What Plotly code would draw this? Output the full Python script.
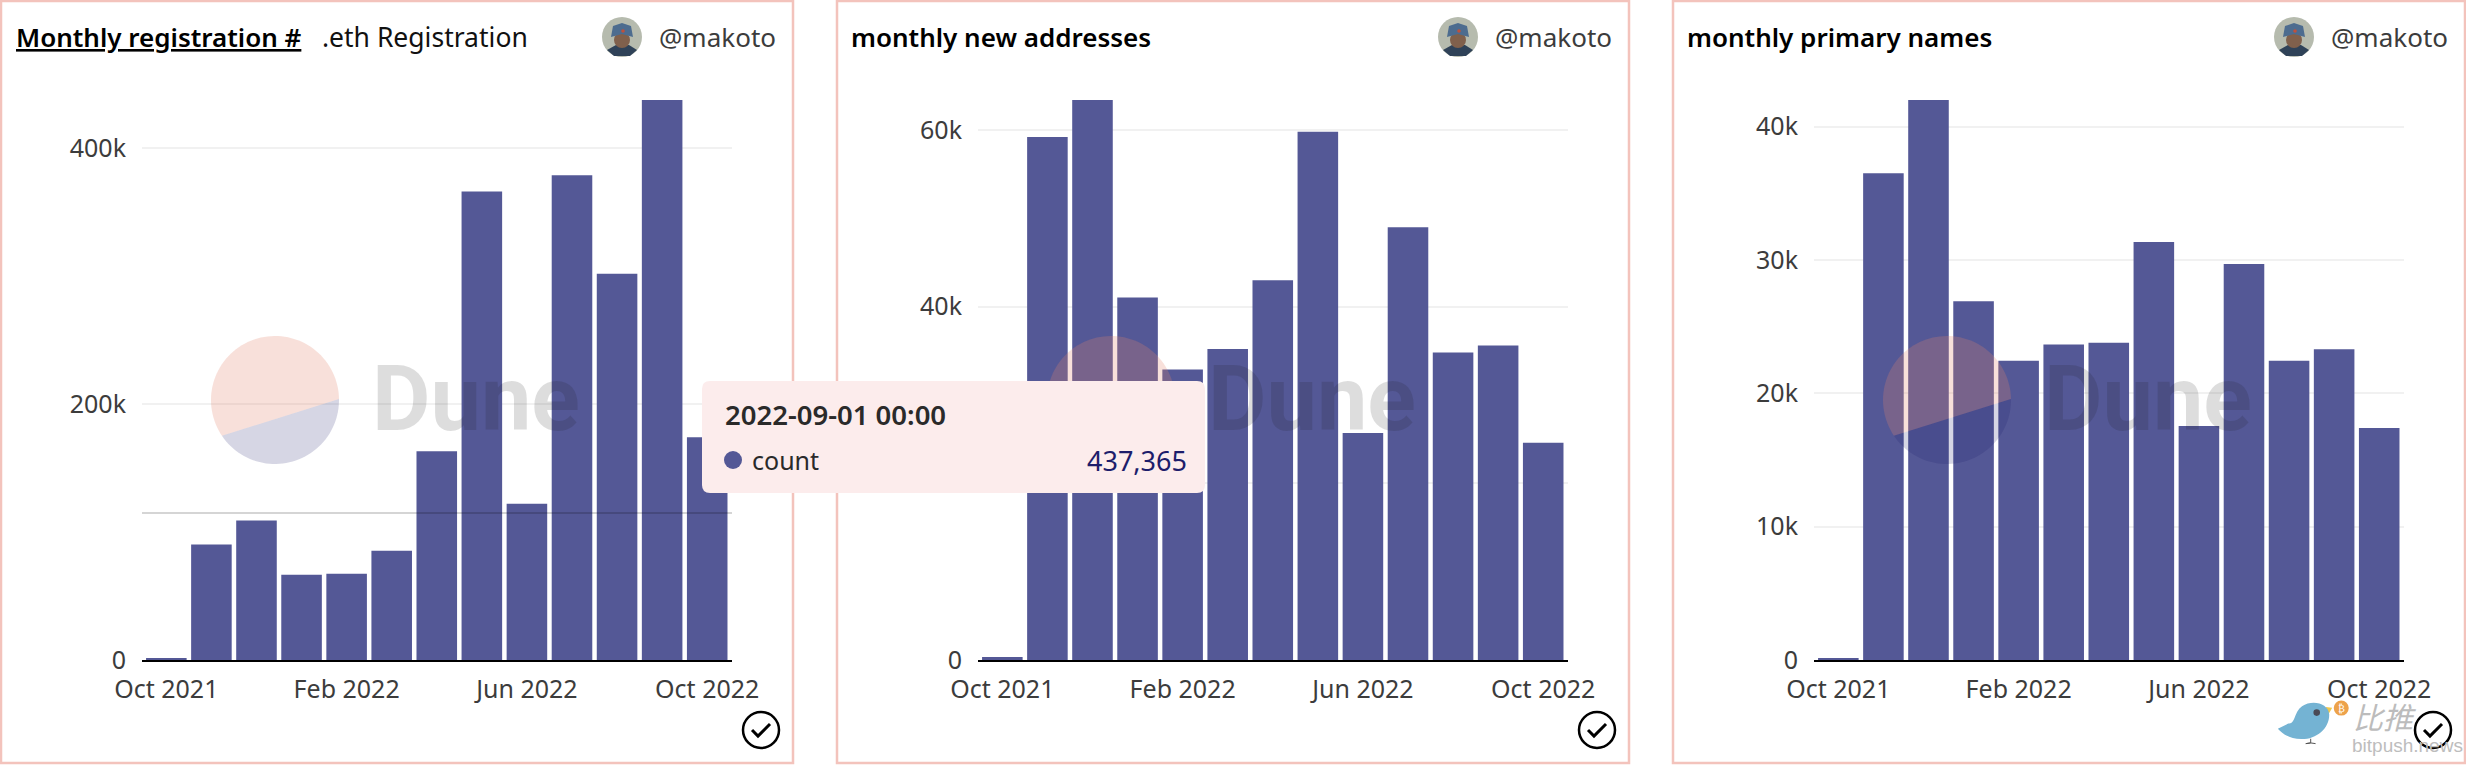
import numpy as np
import plotly.graph_objects as go

W, H = 2466, 766
months = ["2021-10","2021-11","2021-12","2022-01","2022-02","2022-03","2022-04",
          "2022-05","2022-06","2022-07","2022-08","2022-09","2022-10"]
tick_months = ["2021-10","2022-02","2022-06","2022-10"]
tick_labels = ["Oct 2021","Feb 2022","Jun 2022","Oct 2022"]

registrations = [800,90300,109000,66600,67400,85400,163000,366000,122000,378600,301600,437365,174000]
new_addresses = [330,59200,63400,41050,32900,35200,43000,59800,25700,49000,34800,35600,24600]
primary_names = [100,36500,42000,26900,22450,23660,23800,31350,17550,29700,22450,23300,17400]

reg_ticks = [0,200000,400000]; reg_labels = ["0","200k","400k"]
addr_ticks = [0,20000,40000,60000]; addr_labels = ["0","","40k","60k"]
prim_ticks = [0,10000,20000,30000,40000]; prim_labels = ["0","10k","20k","30k","40k"]

titles = ["Monthly registration #","monthly new addresses","monthly primary names"]
subtitle = ".eth Registration"
author = "@makoto"
tip_title = "2022-09-01 00:00"
tip_name = "count"
tip_value = "437,365"

BAR = "#545896"
FONT = "Noto Sans"
OFF = 836
PL, PR, PT, PB = 142, 732, 100, 660

def X(p): return p / W
def Y(p): return 1 - p / H
def path(pts, close=True):
    s = "M" + " L".join(f"{X(a):.5f},{Y(b):.5f}" for a, b in pts)
    return s + (" Z" if close else "")
def bez(cmds):
    out = []
    for c, pts in cmds:
        out.append(c + " ".join(f"{X(a):.5f},{Y(b):.5f}" for a, b in pts))
    return " ".join(out)

fig = go.Figure()
series = [(registrations, reg_ticks, reg_labels), (new_addresses, addr_ticks, addr_labels), (primary_names, prim_ticks, prim_labels)]
shapes, annos = [], []

def circ(cx, cy, r, **kw):
    return dict(type="circle", xref="paper", yref="paper", x0=X(cx-r), x1=X(cx+r), y0=Y(cy+r), y1=Y(cy-r), **kw)
def txt(x, y, t, size, color="#333", anchor="left", weight="normal", family=FONT, **f):
    return dict(xref="paper", yref="paper", x=X(x), y=Y(y), text=t, showarrow=False, xanchor=anchor, yanchor="middle",
                align=anchor, font=dict(family=family, size=size, color=color, weight=weight, **f),
                borderpad=0, borderwidth=0)

layout_axes = {}
for i, (vals, tv, tl) in enumerate(series):
    o = OFF * i
    s = "" if i == 0 else str(i + 1)
    fig.add_trace(go.Bar(x=months, y=vals, xaxis=f"x{s}", yaxis=f"y{s}", marker=dict(color=BAR, line_width=0),
                         width=0.9, showlegend=False))
    layout_axes[f"xaxis{s}"] = dict(domain=[X(PL+o), X(PR+o)], type="category", categoryorder="array", categoryarray=months,
        range=[-0.54, 12.55], tickmode="array", tickvals=tick_months, ticktext=tick_labels, showgrid=False, zeroline=False,
        showline=True, linecolor="#000", linewidth=2, ticks="outside", ticklen=6, tickcolor="rgba(0,0,0,0)", automargin=False,
        tickfont=dict(family=FONT, size=25, color="#3c3c3c"), anchor=f"y{s}", tickangle=0)
    layout_axes[f"yaxis{s}"] = dict(domain=[Y(PB), Y(PT)], range=[0, max(vals)], tickmode="array", tickvals=tv, ticktext=tl,
        showgrid=True, gridcolor="#f1f1f1", gridwidth=2, zeroline=False, showline=False, ticks="outside", ticklen=10, automargin=False,
        tickcolor="rgba(0,0,0,0)", tickfont=dict(family=FONT, size=25, color="#3c3c3c"), anchor=f"x{s}")

    # card border
    shapes.append(dict(type="rect", xref="paper", yref="paper", x0=X(o+1), x1=X(o+793), y0=Y(763), y1=Y(1),
                       line=dict(color="#f3c3bc", width=2.5), layer="above"))
    # Dune watermark
    cx, cy, r = 275 + o, 400, 64
    ang_top = np.linspace(np.deg2rad(1), np.deg2rad(214), 70)
    ang_bot = np.linspace(np.deg2rad(214), np.deg2rad(361), 50)
    shapes.append(dict(type="path", xref="paper", yref="paper", layer="above", line_width=0, fillcolor="rgba(228,131,107,0.25)",
                       path=path([(cx + r*np.cos(a), cy - r*np.sin(a)) for a in ang_top])))
    shapes.append(dict(type="path", xref="paper", yref="paper", layer="above", line_width=0, fillcolor="rgba(28,28,105,0.18)",
                       path=path([(cx + r*np.cos(a), cy - r*np.sin(a)) for a in ang_bot])))
    annos.append(txt(372 + o, 399, "Dune", 90, color="rgba(25,25,25,0.15)", weight=700, family="Roboto"))

    # header
    if i == 0:
        annos.append(txt(16, 37, titles[0], 26, color="#000", weight=600, lineposition="under"))
        annos.append(txt(322, 37, subtitle, 26.5, color="#111"))
    else:
        annos.append(txt(o + 15, 37, titles[i], 26, color="#000", weight=600))
    ax, ay = 622 + o, 37
    shapes.append(circ(ax, ay, 20, fillcolor="#b6bbae", line_width=0, layer="above"))
    shapes.append(dict(type="path", xref="paper", yref="paper", layer="above", line_width=0, fillcolor="#2f4258",
                       path=path([(ax-15, ay+13), (ax-6, ay+8), (ax+7, ay+8), (ax+15, ay+13), (ax+8, ay+19), (ax-8, ay+19)])))
    shapes.append(circ(ax, ay + 3, 8, fillcolor="#80604c", line_width=0, layer="above"))
    shapes.append(dict(type="path", xref="paper", yref="paper", layer="above", line_width=0, fillcolor="#4d6c8f",
                       path=path([(ax-11, ay), (ax-9, ay-11), (ax, ay-14), (ax+9, ay-11), (ax+11, ay), (ax, ay-3)])))
    shapes.append(circ(ax + 1, ay - 6, 1.8, fillcolor="#c0503c", line_width=0, layer="above"))
    annos.append(txt(659 + o, 37, author, 26, color="#3c3c3c"))

    # check icon
    kx, ky = 761 + o, 730
    shapes.append(circ(kx, ky, 18, fillcolor="rgba(0,0,0,0)", line=dict(color="#000", width=2.5), layer="above"))
    shapes.append(dict(type="path", xref="paper", yref="paper", layer="above", line=dict(color="#000", width=3),
                       path=path([(kx-9, ky), (kx-3, ky+6), (kx+9, ky-6)], close=False)))

# hover crosshair
shapes.append(dict(type="line", xref="paper", yref="paper", x0=X(PL), x1=X(PR), y0=Y(513), y1=Y(513),
                   line=dict(color="rgba(0,0,0,0.22)", width=1.5), layer="above"))

# tooltip
TL, TR, TT, TB = 702, 1205, 381, 493
shapes.append(dict(type="path", xref="paper", yref="paper", layer="above", line_width=0, fillcolor="#fcecec",
    path=bez([("M", [(TL+8,TT)]), ("L", [(TR-8,TT)]), ("Q", [(TR,TT),(TR,TT+8)]), ("L", [(TR,TB-8)]), ("Q", [(TR,TB),(TR-8,TB)]),
              ("L", [(TL+8,TB)]), ("Q", [(TL,TB),(TL,TB-8)]), ("L", [(TL,TT+8)]), ("Q", [(TL,TT),(TL+8,TT)]), ("Z", [])])))
shapes.append(circ(733, 460, 9, fillcolor=BAR, line_width=0, layer="above"))
annos.append(txt(725, 414, tip_title, 27.5, color="#2a2a2a", weight=600))
annos.append(txt(752, 460, tip_name, 25, color="#2a2a2a"))
annos.append(txt(1187, 460, tip_value, 27, color="#1d1d6b", anchor="right"))

# bitpush watermark
def B(x, y): return (2222 + x / 2.65, 660 + y / 2.87)
shapes.append(dict(type="path", xref="paper", yref="paper", layer="above", line_width=0, fillcolor="#f2c84b",
                   path=path([B(275,135), B(292,137), B(280,160)])))
shapes.append(dict(type="path", xref="paper", yref="paper", layer="above", line_width=0, fillcolor="#74b3d3",
    path=bez([("M",[B(148,197)]), ("L",[B(176,182)]), ("C",[B(195,185),B(190,150),B(212,133)]), ("C",[B(240,112),B(282,125),B(284,155)]),
              ("C",[B(286,195),B(250,228),B(210,227)]), ("C",[B(180,226),B(160,212),B(148,197)]), ("Z",[])])))
shapes.append(dict(type="path", xref="paper", yref="paper", layer="above", line=dict(color="#555", width=1),
                   path=path([B(235,226), B(235,238), B(222,240), B(235,238), B(248,240)], close=False)))
ex, ey = B(251, 151)
shapes.append(circ(ex, ey, 3.3, fillcolor="#4a4a55", line_width=0, layer="above"))
kx, ky = B(316, 138)
shapes.append(circ(kx, ky, 7.5, fillcolor="#eda24a", line_width=0, layer="above"))
annos.append(txt(kx, ky, "₿", 10, color="#fff", anchor="center", family="DejaVu Sans"))
annos.append(txt(2353, 716, "比推", 30, color="#bcbcbc", family="Noto Sans CJK SC", style="italic"))
annos.append(txt(2352, 745, "bitpush.news", 19, color="#bdbdbd", family="Liberation Sans"))

fig.update_layout(width=W, height=H, margin=dict(l=0, r=0, t=0, b=0, autoexpand=False), paper_bgcolor="#fff", plot_bgcolor="#fff",
                  bargap=0.1, shapes=shapes, annotations=annos, hovermode=False, **layout_axes)
POST = """
var st=document.createElement('style');
st.textContent='html,body{margin:0!important;padding:0!important;overflow:hidden!important;background:#fff}'
 +'.plotly-graph-div{display:block;margin:0}';
document.head.appendChild(st);
"""
fig.write_html("out.html", post_script=POST, config=dict(displayModeBar=False))
